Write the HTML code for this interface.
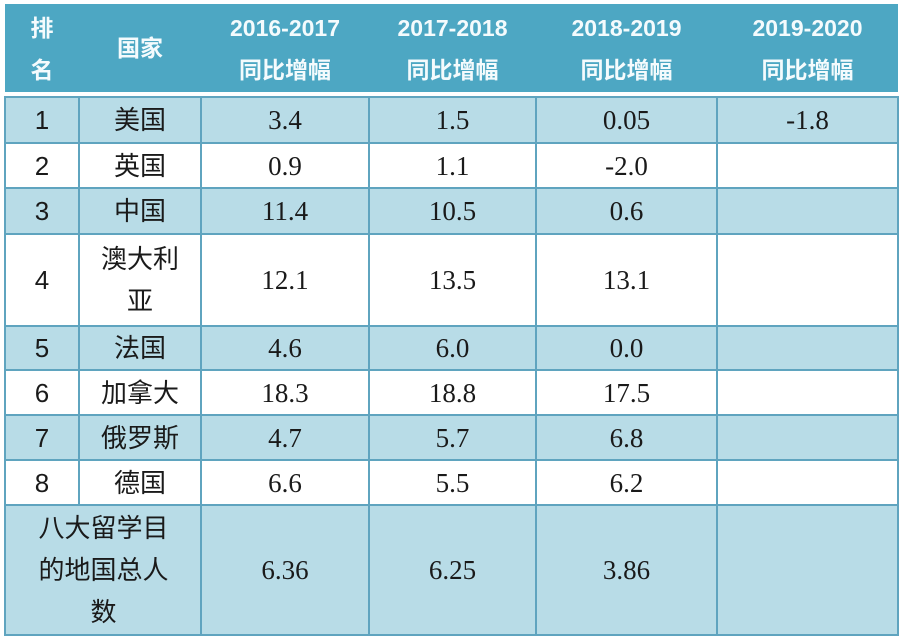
<!DOCTYPE html>
<html><head><meta charset="utf-8"><style>
body{margin:0;width:900px;height:642px;background:#fff;position:relative;overflow:hidden}
.h{position:absolute;top:4px;left:5px;width:893px;height:88px;background:#4da7c3}
.ht{position:absolute;color:#f4fbfd;font-family:"Liberation Sans","Noto Sans CJK SC",sans-serif;font-weight:bold;font-size:23px;text-align:center;line-height:42px}
.c{position:absolute;box-sizing:border-box;border:2px solid #5fa4bf;display:flex;align-items:center;justify-content:center;text-align:center;color:#1a1a1a;font-size:26px;line-height:42px}
.b{background:#b8dce7}.w{background:#fff}
.z{font-family:"Liberation Sans","Noto Sans CJK SC",sans-serif}
.n{font-family:"Liberation Serif","Noto Serif CJK SC",serif;font-size:27px}
</style></head><body>
<div class="h"></div>
<div class="ht" style="left:5px;width:74px;top:7px">排<br>名</div>
<div class="ht" style="left:79px;width:122px;top:27px">国家</div>
<div class="ht" style="left:201px;width:168px;top:7px">2016-2017<br>同比增幅</div>
<div class="ht" style="left:369px;width:167px;top:7px">2017-2018<br>同比增幅</div>
<div class="ht" style="left:536px;width:181px;top:7px">2018-2019<br>同比增幅</div>
<div class="ht" style="left:717px;width:181px;top:7px">2019-2020<br>同比增幅</div>
<div id="g"></div>
<script>
var cols=[5,79,201,369,536,717,898];
var rows=[[97,143,'b','1','美国','3.4','1.5','0.05','-1.8'],[143,188,'w','2','英国','0.9','1.1','-2.0',''],[188,234,'b','3','中国','11.4','10.5','0.6',''],[234,326,'w','4','澳大利<br>亚','12.1','13.5','13.1',''],[326,370,'b','5','法国','4.6','6.0','0.0',''],[370,415,'w','6','加拿大','18.3','18.8','17.5',''],[415,460,'b','7','俄罗斯','4.7','5.7','6.8',''],[460,505,'w','8','德国','6.6','5.5','6.2','']];
var h='';
rows.forEach(function(r){for(var i=0;i<6;i++){var cl=i<2?'z':'n';h+='<div class="c '+r[2]+' '+cl+'" style="left:'+(cols[i]-1)+'px;top:'+(r[0]-1)+'px;width:'+(cols[i+1]-cols[i]+2)+'px;height:'+(r[1]-r[0]+2)+'px">'+r[i+3]+'</div>';}});
h+='<div class="c b z" style="left:4px;top:504px;width:199px;height:132px">八大留学目<br>的地国总人<br>数</div>';
var t=['6.36','6.25','3.86',''];
for(var i=2;i<6;i++)h+='<div class="c b n" style="left:'+(cols[i]-1)+'px;top:504px;width:'+(cols[i+1]-cols[i]+2)+'px;height:132px">'+t[i-2]+'</div>';
document.getElementById('g').innerHTML=h;
</script>
</body></html>
